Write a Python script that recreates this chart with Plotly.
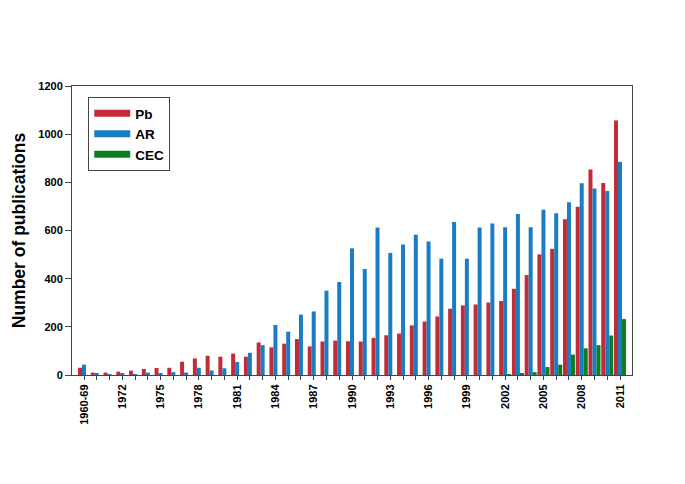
import plotly.graph_objects as go

categories = ["1960-69"] + [str(y) for y in range(1970, 2012)]

pb = [30, 10, 10, 14, 18, 25, 29, 30, 55, 69, 80, 76, 89, 76, 135,
      115, 130, 149, 119, 139, 143, 140, 139, 154, 165, 172, 206, 222, 243,
      275, 289, 293, 301, 307, 358, 415, 501, 524, 647, 699, 853, 797, 1057]

ar = [43, 7, 3, 7, 4, 10, 5, 12, 10, 30, 19, 28, 54, 92, 124,
      208, 180, 251, 264, 350, 386, 526, 440, 612, 507, 542, 582, 554, 483,
      635, 483, 612, 629, 614, 669, 614, 686, 672, 717, 796, 774, 764, 885]

cec = [0] * 33 + [2, 5, 12, 33, 43, 85, 111, 124, 164, 232]

tick_text = [c if i % 3 == 0 else "" for i, c in enumerate(categories)]

series_names = ["Pb", "AR", "CEC"]
series_values = [pb, ar, cec]
colors = ["#C22B38", "#1A7DC3", "#0B7F1E"]

FONT = "Arial, Liberation Sans, sans-serif"

fig = go.Figure()
for name, vals, col in zip(series_names, series_values, colors):
    fig.add_trace(go.Bar(x=categories, y=vals, name=name, marker_color=col,
                         marker_line_width=0, showlegend=False))
for name, col in zip(series_names, colors):
    fig.add_trace(go.Scatter(x=[None], y=[None], mode="lines", name=name,
                             line=dict(color=col, width=7)))

fig.update_layout(
    width=685, height=484,
    margin=dict(l=64, r=61, t=78, b=117, autoexpand=False),
    paper_bgcolor="white", plot_bgcolor="white",
    barmode="group", bargap=0.06, bargroupgap=0,
    font=dict(family=FONT, color="black"),
    legend=dict(x=0.029, y=0.962, xanchor="left", yanchor="top",
                bordercolor="#444", borderwidth=1, bgcolor="white",
                font=dict(size=13.5, family=FONT, weight="bold"),
                itemwidth=36, tracegroupgap=0),
    xaxis=dict(type="category", range=[-0.94, 42.94],
               tickmode="array", tickvals=categories, ticktext=tick_text,
               tickangle=-90, ticks="outside", ticklen=4, tickcolor="#444",
               showline=True, linecolor="#444", linewidth=1, mirror=True,
               showgrid=False, zeroline=False,
               tickfont=dict(size=11, family=FONT, weight="bold")),
    yaxis=dict(range=[0, 1200], tickmode="array",
               tickvals=[0, 200, 400, 600, 800, 1000, 1200],
               ticks="outside", ticklen=6, tickcolor="#444",
               showline=True, linecolor="#444", linewidth=1, mirror=True,
               showgrid=False, zeroline=False,
               tickfont=dict(size=11, family=FONT, weight="bold"),
               title=dict(text="Number of publications", standoff=8,
                          font=dict(size=17.5, family=FONT, weight="bold"))),
)

fig.write_html("out.html")
